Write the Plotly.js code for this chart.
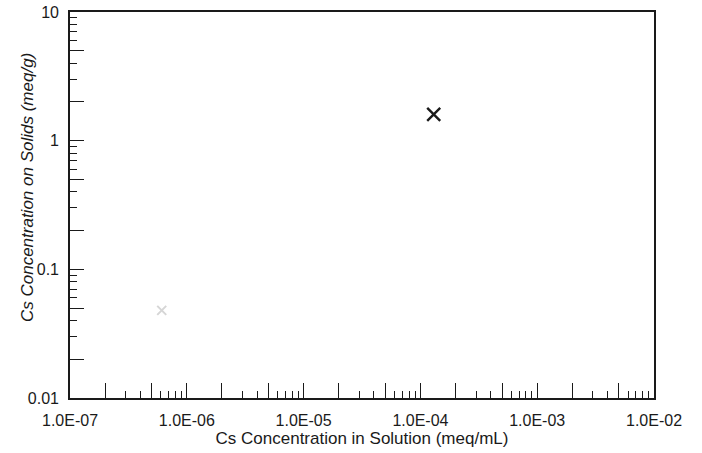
<!DOCTYPE html>
<html>
<head>
<meta charset="utf-8">
<script src="https://cdn.plot.ly/plotly-3.0.1.min.js"></script>
<style>html,body{margin:0;padding:0;background:#fff;}#chart{width:702px;height:453px;}</style>
</head>
<body>
<div id="chart"></div>
<script>
// Data
const solutionConc = [1.3e-4];          // meq/mL
const solidsConc = [1.6];               // meq/g
const faintSolution = [6.1e-7];
const faintSolids = [0.048];

// Tick labels and tick positions
const xTickVals = [1e-7, 2e-7, 5e-7, 1e-6, 2e-6, 5e-6, 1e-5, 2e-5, 5e-5, 1e-4, 2e-4, 5e-4, 1e-3, 2e-3, 5e-3, 1e-2];
const xTickText = ["1.0E-07", "", "", "1.0E-06", "", "", "1.0E-05", "", "", "1.0E-04", "", "", "1.0E-03", "", "", "1.0E-02"];
const xMinorVals = [3e-7, 4e-7, 6e-7, 7e-7, 8e-7, 9e-7, 3e-6, 4e-6, 6e-6, 7e-6, 8e-6, 9e-6,
                    3e-5, 4e-5, 6e-5, 7e-5, 8e-5, 9e-5, 3e-4, 4e-4, 6e-4, 7e-4, 8e-4, 9e-4,
                    3e-3, 4e-3, 6e-3, 7e-3, 8e-3, 9e-3];
const yTickVals = [0.01, 0.02, 0.05, 0.1, 0.2, 0.5, 1, 2, 5, 10];
const yTickText = ["0.01", "", "", "0.1", "", "", "1", "", "", "10"];
const yMinorVals = [0.03, 0.04, 0.06, 0.07, 0.08, 0.09, 0.3, 0.4, 0.6, 0.7, 0.8, 0.9, 3, 4, 6, 7, 8, 9];
const xTitle = 'Cs Concentration in Solution (meq/mL)';
const yTitle = 'Cs Concentration on Solids (meq/g)';

const ink = '#1a1a1a';
const traces = [
  {x: faintSolution, y: faintSolids, mode: 'markers', type: 'scatter',
   marker: {symbol: 'x-thin', size: 9, line: {width: 2, color: '#d6d6d6'}}, hoverinfo: 'skip'},
  {x: solutionConc, y: solidsConc, mode: 'markers', type: 'scatter',
   marker: {symbol: 'x-thin', size: 13, line: {width: 2.4, color: ink}}}
];

const font = {family: 'Liberation Sans, Arial, sans-serif', color: ink};
const layout = {
  width: 702, height: 453,
  margin: {l: 70, r: 48, t: 12, b: 55},
  paper_bgcolor: '#fff', plot_bgcolor: '#fff',
  showlegend: false,
  font: Object.assign({size: 16}, font),
  xaxis: {
    type: 'log', range: [-7, -2], automargin: false,
    tickmode: 'array', tickvals: xTickVals, ticktext: xTickText,
    ticks: 'inside', ticklen: 15, tickwidth: 1, tickcolor: ink,
    minor: {tickmode: 'array', tickvals: xMinorVals, ticks: 'inside', ticklen: 7, tickwidth: 1, tickcolor: ink, showgrid: false},
    showgrid: false, zeroline: false,
    showline: true, linecolor: ink, linewidth: 1.8, mirror: true,
    tickfont: {size: 16}, ticklabelstandoff: 7,
    title: {text: xTitle, font: {size: 17}, standoff: 3}
  },
  yaxis: {
    type: 'log', range: [-2, 1], automargin: false,
    tickmode: 'array', tickvals: yTickVals, ticktext: yTickText,
    ticks: 'inside', ticklen: 14, tickwidth: 1, tickcolor: ink,
    minor: {tickmode: 'array', tickvals: yMinorVals, ticks: 'inside', ticklen: 7, tickwidth: 1, tickcolor: ink, showgrid: false},
    showgrid: false, zeroline: false,
    showline: true, linecolor: ink, linewidth: 1.8, mirror: true,
    tickfont: {size: 16}, ticklabelstandoff: 6
  },
  annotations: [{
    text: '<i>' + yTitle + '</i>', textangle: -90,
    xref: 'paper', yref: 'paper', x: -0.0736, y: 0.544,
    xanchor: 'center', yanchor: 'middle', showarrow: false,
    font: {size: 17, family: font.family, color: ink}
  }]
};

Plotly.newPlot('chart', traces, layout, {displayModeBar: false, staticPlot: true});
</script>
</body>
</html>
